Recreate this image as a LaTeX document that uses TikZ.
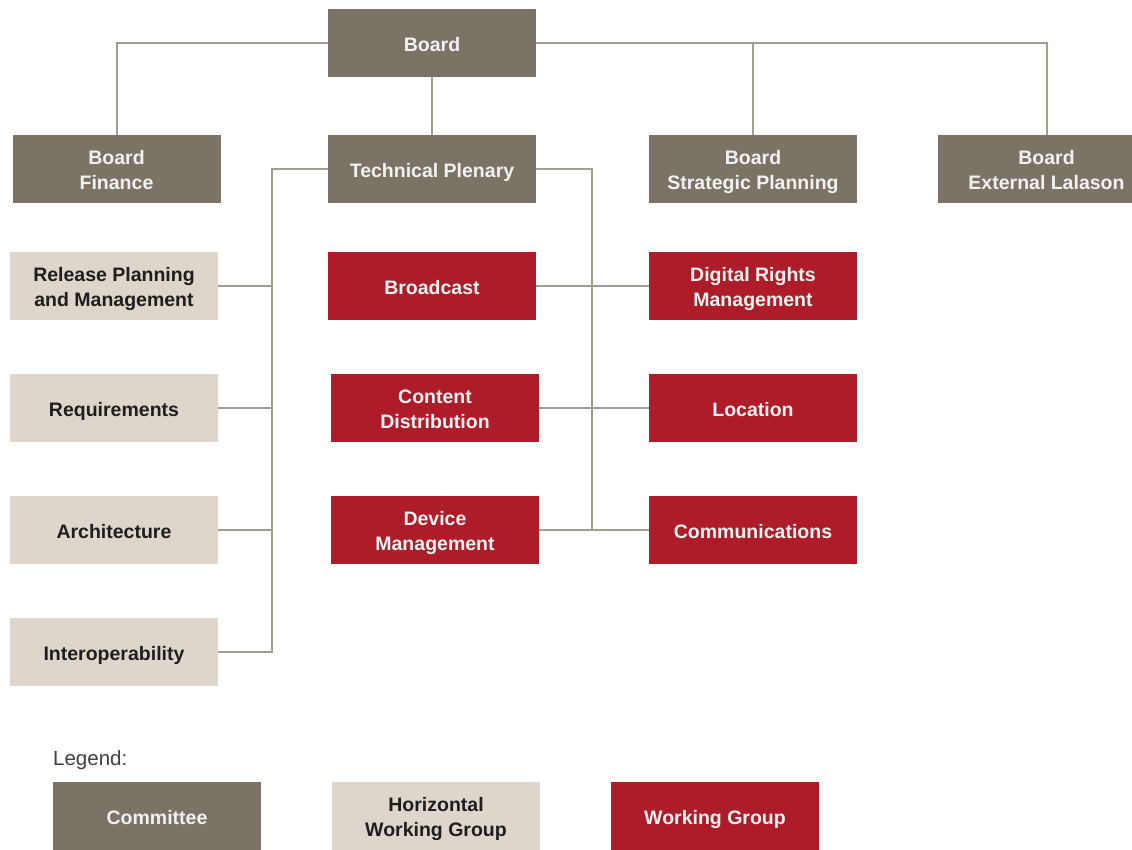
\documentclass[tikz,border=0pt]{standalone}
\usepackage{fontspec}
\setmainfont{Liberation Sans}
\definecolor{comm}{HTML}{7B7466}
\definecolor{hwg}{HTML}{DED6CA}
\definecolor{wg}{HTML}{AD1C28}
\definecolor{conn}{HTML}{A19D93}
\definecolor{dtext}{HTML}{1E1E1E}
\newcommand{\boxstrut}{\rule[-4pt]{0pt}{24.5pt}}
\tikzset{
  box/.style={minimum width=208pt, minimum height=68pt, inner sep=0pt, align=center,
    font=\bfseries\fontsize{19.5}{25}\selectfont,
    execute at end node=\boxstrut},
  cbox/.style={box, fill=comm, text=white!95!black},
  hbox/.style={box, fill=hwg, text=dtext},
  wbox/.style={box, fill=wg, text=white!95!black},
  link/.style={draw=conn, line width=2pt}
}
\begin{document}
\begin{tikzpicture}[x=1pt,y=-1pt]
\clip (0,0) rectangle (1132,849);
\useasboundingbox (0,0) rectangle (1132,849);
\fill[white] (0,0) rectangle (1132,849);
% committees
\node[cbox] (board) at (432,43) {Board};
\node[cbox] (fin) at (116.5,169) {\boxstrut Board\\Finance};
\node[cbox] (tp) at (432,169) {Technical Plenary};
\node[cbox] (bsp) at (753,169) {\boxstrut Board\\Strategic Planning};
\node[cbox, minimum width=217pt] (bel) at (1046.5,169) {\boxstrut Board\\External Lalason};
% horizontal working groups
\node[hbox] (rel) at (114,286) {\boxstrut Release Planning\\and Management};
\node[hbox] (req) at (114,408) {Requirements};
\node[hbox] (arch) at (114,530) {Architecture};
\node[hbox] (iop) at (114,652) {Interoperability};
% working groups
\node[wbox] (bc) at (432,286) {Broadcast};
\node[wbox] (cd) at (435,408) {\boxstrut Content\\Distribution};
\node[wbox] (dm) at (435,530) {\boxstrut Device\\Management};
\node[wbox] (drm) at (753,286) {\boxstrut Digital Rights\\Management};
\node[wbox] (loc) at (753,408) {Location};
\node[wbox] (com) at (753,530) {Communications};
% bus coordinates
\coordinate (lbus) at (272,169);
\coordinate (rbus) at (592,169);
% top connectors
\draw[link] (fin.north) |- (board.west);
\draw[link] (board.east) -| (bel.north);
\draw[link] (bsp.north) -- (bsp.north |- board.east);
\draw[link] (board.south) -- (tp.north);
% left bus
\draw[link] (tp.west) -- (lbus) |- (iop.east);
\draw[link] (rel.east) -- (rel.east -| lbus);
\draw[link] (req.east) -- (req.east -| lbus);
\draw[link] (arch.east) -- (arch.east -| lbus);
% right bus
\draw[link] (tp.east) -- (rbus) -- (rbus |- com.west);
\draw[link] (bc.east) -- (drm.west);
\draw[link] (cd.east) -- (loc.west);
\draw[link] (dm.east) -- (com.west);
% legend
\node[anchor=base west, inner sep=0pt, text=dtext!85!white, font=\fontsize{20.5}{24}\selectfont] (leg) at (53,765) {Legend:};
\node[cbox] (lc) at (157,816) {Committee};
\node[hbox] (lh) at (436,816) {\boxstrut Horizontal\\Working Group};
\node[wbox] (lw) at (715,816) {Working Group};
\end{tikzpicture}
\end{document}
